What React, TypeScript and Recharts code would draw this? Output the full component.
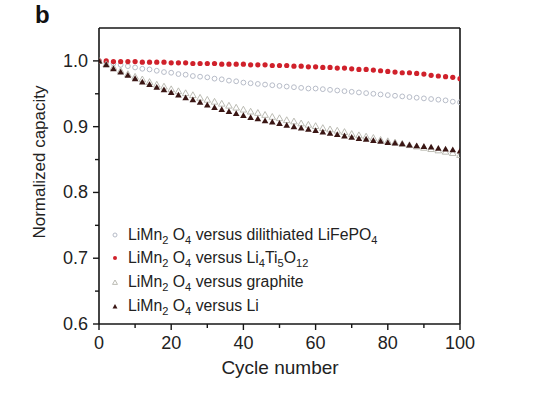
import React from 'react';
import { ScatterChart, Scatter, XAxis, YAxis, ReferenceLine } from 'recharts';

const CYCLES = [0, 2, 4, 6, 8, 10, 12, 14, 16, 18, 20, 22, 24, 26, 28, 30, 32, 34, 36, 38, 40, 42, 44, 46, 48, 50, 52, 54, 56, 58, 60, 62, 64, 66, 68, 70, 72, 74, 76, 78, 80, 82, 84, 86, 88, 90, 92, 94, 96, 98, 100];

const LIFEPO4 = [1.000, 0.998, 0.996, 0.994, 0.992, 0.990, 0.988, 0.987, 0.985, 0.983, 0.982, 0.980, 0.979, 0.977, 0.976, 0.975, 0.973, 0.972, 0.970, 0.969, 0.967, 0.966, 0.965, 0.964, 0.963, 0.962, 0.961, 0.960, 0.959, 0.958, 0.958, 0.957, 0.956, 0.955, 0.954, 0.953, 0.952, 0.951, 0.950, 0.949, 0.948, 0.947, 0.946, 0.945, 0.944, 0.943, 0.942, 0.941, 0.940, 0.938, 0.937];

const LTO = [1.000, 1.000, 0.999, 0.999, 0.999, 0.999, 0.998, 0.998, 0.998, 0.998, 0.997, 0.997, 0.997, 0.996, 0.996, 0.996, 0.996, 0.995, 0.995, 0.995, 0.995, 0.994, 0.994, 0.994, 0.993, 0.993, 0.993, 0.992, 0.992, 0.991, 0.991, 0.990, 0.990, 0.989, 0.989, 0.988, 0.987, 0.987, 0.986, 0.985, 0.984, 0.983, 0.982, 0.982, 0.981, 0.980, 0.978, 0.977, 0.976, 0.975, 0.973];

const GRAPHITE = [1.000, 0.995, 0.990, 0.985, 0.980, 0.976, 0.972, 0.968, 0.964, 0.961, 0.957, 0.954, 0.951, 0.948, 0.944, 0.941, 0.938, 0.935, 0.932, 0.929, 0.926, 0.923, 0.921, 0.918, 0.915, 0.913, 0.910, 0.908, 0.905, 0.903, 0.901, 0.898, 0.896, 0.894, 0.892, 0.889, 0.887, 0.885, 0.883, 0.880, 0.878, 0.876, 0.874, 0.872, 0.870, 0.868, 0.866, 0.864, 0.862, 0.860, 0.857];

const LI = [1.000, 0.994, 0.988, 0.983, 0.978, 0.973, 0.968, 0.964, 0.960, 0.956, 0.952, 0.948, 0.944, 0.941, 0.937, 0.933, 0.929, 0.926, 0.923, 0.920, 0.917, 0.914, 0.912, 0.909, 0.907, 0.905, 0.902, 0.900, 0.898, 0.896, 0.894, 0.892, 0.890, 0.888, 0.886, 0.884, 0.882, 0.881, 0.879, 0.878, 0.876, 0.875, 0.874, 0.872, 0.871, 0.870, 0.869, 0.867, 0.866, 0.865, 0.863];

const X_TICKS = [0, 10, 20, 30, 40, 50, 60, 70, 80, 90, 100];
const Y_TICKS = [0.6, 0.65, 0.7, 0.75, 0.8, 0.85, 0.9, 0.95, 1.0];

const build = (vals: number[]) => CYCLES.map((c, i) => ({ cycle: c, v: vals[i] }));

const FONT = '"Liberation Sans", Arial, Helvetica, sans-serif';
const AX = '#161616';

const C_CIRC = '#b7bcc8';
const C_RED = '#d0212b';
const C_GRA = '#b4b4ac';
const C_LI = '#3a1614';

const openCircle = (p: any) => (
  <circle cx={p.cx} cy={p.cy} r={2.4} fill="none" stroke={C_CIRC} strokeWidth={1} />
);
const redDot = (p: any) => <circle cx={p.cx} cy={p.cy} r={2.6} fill={C_RED} stroke="none" />;
const triPts = (cx: number, cy: number, s = 1) =>
  `${cx},${cy - 3.3 * s} ${cx - 3.3 * s},${cy + 2.5 * s} ${cx + 3.3 * s},${cy + 2.5 * s}`;
const openTri = (p: any) => (
  <polygon points={triPts(p.cx, p.cy)} fill="none" stroke={C_GRA} strokeWidth={0.9} />
);
const filledTri = (p: any) => <polygon points={triPts(p.cx, p.cy)} fill={C_LI} stroke="none" />;

const XTick = (props: any) => {
  const { x, y, payload } = props;
  const v = payload.value;
  const major = v % 20 === 0;
  return (
    <g>
      <line x1={x} y1={y} x2={x} y2={y + (major ? 6 : 4)} stroke={AX} strokeWidth={1.4} />
      {major && (
        <text x={x} y={y + 25} textAnchor="middle" fontSize={18} fontFamily={FONT} fill="#222">
          {v}
        </text>
      )}
    </g>
  );
};

const YTick = (props: any) => {
  const { x, y, payload } = props;
  const v = payload.value;
  const major = Math.round(v * 100) % 10 === 0;
  return (
    <g>
      <line x1={x} y1={y} x2={x - (major ? 6 : 4)} y2={y} stroke={AX} strokeWidth={1.4} />
      {major && (
        <text x={x - 11} y={y + 6} textAnchor="end" fontSize={18} fontFamily={FONT} fill="#222">
          {v.toFixed(1)}
        </text>
      )}
    </g>
  );
};

const Sub = ({ children }: { children: React.ReactNode }) => (
  <span style={{ fontSize: '70%', position: 'relative', top: '0.45em' }}>{children}</span>
);

const LegendRow = ({ top, marker, children }: { top: number; marker: React.ReactNode; children: React.ReactNode }) => (
  <div
    style={{
      position: 'absolute',
      left: 109,
      top: top - 10,
      height: 20,
      display: 'flex',
      alignItems: 'center',
      whiteSpace: 'nowrap',
      fontFamily: FONT,
      fontSize: 15.8,
      color: '#222',
    }}
  >
    <svg width={12} height={12} style={{ display: 'block' }}>
      {marker}
    </svg>
    <span style={{ marginLeft: 7, lineHeight: '20px' }}>{children}</span>
  </div>
);

export default function App() {
  return (
    <div style={{ position: 'absolute', left: 0, top: 0, width: 550, height: 396, background: '#fff' }}>
      <ScatterChart width={550} height={396} margin={{ top: 28, right: 90, bottom: 42, left: 49 }}>
        <XAxis
          type="number"
          dataKey="cycle"
          domain={[0, 100]}
          ticks={X_TICKS}
          tick={<XTick />}
          tickLine={false}
          tickSize={0}
          tickMargin={0}
          height={30}
          axisLine={{ stroke: AX, strokeWidth: 1.6 }}
          allowDataOverflow
        />
        <YAxis
          type="number"
          dataKey="v"
          domain={[0.6, 1.05]}
          ticks={Y_TICKS}
          tick={<YTick />}
          tickLine={false}
          tickSize={0}
          tickMargin={0}
          width={50}
          axisLine={{ stroke: AX, strokeWidth: 1.6 }}
          allowDataOverflow
        />
        <ReferenceLine y={1.05} stroke={AX} strokeWidth={1.6} />
        <ReferenceLine x={100} stroke={AX} strokeWidth={1.6} />
        <Scatter data={build(LIFEPO4)} shape={openCircle} isAnimationActive={false} />
        <Scatter data={build(LTO)} shape={redDot} isAnimationActive={false} />
        <Scatter data={build(GRAPHITE)} shape={openTri} isAnimationActive={false} />
        <Scatter data={build(LI)} shape={filledTri} isAnimationActive={false} />
      </ScatterChart>

      <div style={{ position: 'absolute', left: 35, top: 1, fontFamily: FONT, fontWeight: 'bold', fontSize: 24, color: '#111' }}>
        b
      </div>

      <div
        style={{
          position: 'absolute',
          left: 40,
          top: 162,
          transform: 'translate(-50%, -50%) rotate(-90deg)',
          whiteSpace: 'nowrap',
          fontFamily: FONT,
          fontSize: 17,
          color: '#222',
        }}
      >
        Normalized capacity
      </div>

      <div
        style={{
          position: 'absolute',
          left: 280,
          top: 368,
          transform: 'translate(-50%, -50%)',
          whiteSpace: 'nowrap',
          fontFamily: FONT,
          fontSize: 19,
          color: '#222',
        }}
      >
        Cycle number
      </div>

      <LegendRow top={235} marker={<circle cx={6} cy={6} r={2} fill="none" stroke={C_CIRC} strokeWidth={1} />}>
        LiMn<Sub>2</Sub> O<Sub>4</Sub> versus dilithiated LiFePO<Sub>4</Sub>
      </LegendRow>
      <LegendRow top={258} marker={<circle cx={6} cy={6} r={2} fill={C_RED} />}>
        LiMn<Sub>2</Sub> O<Sub>4</Sub> versus Li<Sub>4</Sub>Ti<Sub>5</Sub>O<Sub>12</Sub>
      </LegendRow>
      <LegendRow top={282} marker={<polygon points={triPts(6, 6.5, 0.75)} fill="none" stroke={C_GRA} strokeWidth={0.9} />}>
        LiMn<Sub>2</Sub> O<Sub>4</Sub> versus graphite
      </LegendRow>
      <LegendRow top={306} marker={<polygon points={triPts(6, 6.5, 0.75)} fill={C_LI} />}>
        LiMn<Sub>2</Sub> O<Sub>4</Sub> versus Li
      </LegendRow>
    </div>
  );
}
